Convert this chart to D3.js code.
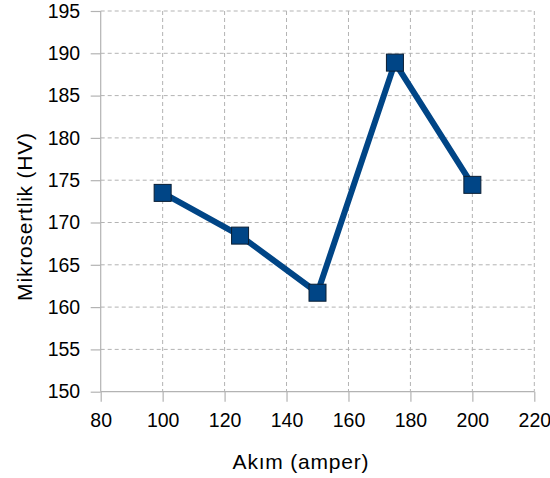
<!DOCTYPE html>
<html>
<head>
<meta charset="utf-8">
<script src="https://cdn.jsdelivr.net/npm/d3@7"></script>
<style>
  body { margin: 0; background: #fff; }
  text { font-family: "Liberation Sans", Arial, sans-serif; fill: #000; }
</style>
</head>
<body>
<script>
// values
var akim = [100, 125, 150, 175, 200];
var sertlik = [173.5, 168.45, 161.7, 188.9, 174.45];
var xTicks = [80, 100, 120, 140, 160, 180, 200, 220];
var yTicks = [150, 155, 160, 165, 170, 175, 180, 185, 190, 195];

var W = 550, H = 478;
var pLeft = 100.7, pRight = 534.3, pTop = 11, pBottom = 391.7;

var svg = d3.select("body").append("svg")
  .attr("width", W)
  .attr("height", H);

var x = d3.scaleLinear().domain([80, 220]).range([pLeft, pRight]);
var y = d3.scaleLinear().domain([150, 195]).range([pBottom, pTop]);

//grid lines
svg.append("g").selectAll("line").data(yTicks.slice(1)).enter().append("line")
  .attr("x1", pLeft).attr("x2", pRight)
  .attr("y1", d => y(d)).attr("y2", d => y(d))
  .attr("stroke", "#b3b3b3").attr("stroke-width", 1)
  .attr("stroke-dasharray", "4,3");

svg.append("g").selectAll("line").data(xTicks.slice(1)).enter().append("line")
  .attr("x1", d => x(d)).attr("x2", d => x(d))
  .attr("y1", pTop).attr("y2", pBottom)
  .attr("stroke", "#b3b3b3").attr("stroke-width", 1)
  .attr("stroke-dasharray", "4,3");

// axes
var xAxis = d3.axisBottom(x).tickValues(xTicks).tickSize(10).tickPadding(11);
var yAxis = d3.axisLeft(y).tickValues(yTicks).tickSize(10).tickPadding(10.5);

var gx = svg.append("g").attr("transform", "translate(0," + pBottom + ")").call(xAxis);
var gy = svg.append("g").attr("transform", "translate(" + pLeft + ",0)").call(yAxis);

[gx, gy].forEach(function(g){
  g.attr("font-size", null).attr("font-family", null);
  g.select(".domain").attr("stroke", "#b3b3b3").attr("stroke-width", 1.2);
  g.selectAll(".tick line").attr("stroke", "#b3b3b3").attr("stroke-width", 1.2);
  g.selectAll(".tick text").style("font-size", "19.5px").attr("fill", "#000");
});
gy.select(".domain").attr("d", "M0," + pBottom + "V" + pTop);
gx.select(".domain").attr("d", "M" + pLeft + ",0H" + pRight);

// titles
svg.append("text")
  .attr("x", 301)
  .attr("y", 469)
  .attr("text-anchor", "middle")
  .style("font-size", "21px")
  .style("letter-spacing", "0.8px")
  .text("Akım (amper)");

svg.append("text")
  .attr("transform", "translate(32,216.5) rotate(-90)")
  .attr("text-anchor", "middle")
  .style("font-size", "21px")
  .style("letter-spacing", "0.8px")
  .text("Mikrosertlik (HV)");

// the series
var pts = akim.map((d, i) => [d, sertlik[i]]);
var line = d3.line().x(d => x(d[0])).y(d => y(d[1]));

svg.append("path")
  .datum(pts)
  .attr("d", line)
  .attr("fill", "none")
  .attr("stroke", "#004586")
  .attr("stroke-width", 6)
  .attr("stroke-linejoin", "round");

var s = 17;
svg.append("g").selectAll("rect").data(pts).enter().append("rect")
  .attr("x", d => x(d[0]) - s / 2)
  .attr("y", d => y(d[1]) - s / 2)
  .attr("width", s)
  .attr("height", s)
  .attr("fill", "#004586")
  .attr("stroke", "#0a1e33")
  .attr("stroke-width", 1);
</script>
</body>
</html>
